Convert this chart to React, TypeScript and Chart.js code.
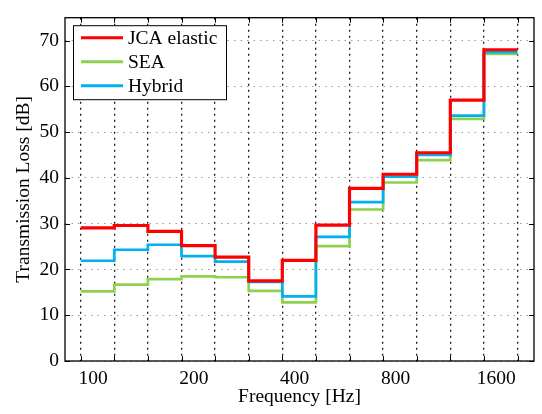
import React, { useEffect, useRef } from 'react';
import { Chart, registerables } from 'chart.js';

Chart.register(...registerables);

// Third-octave band centre frequencies (Hz)
const bands = ['100', '125', '160', '200', '250', '315', '400', '500', '630', '800', '1000', '1250', '1600'];
// Transmission loss per band (dB)
const jcaElastic = [29.1, 29.6, 28.3, 25.2, 22.7, 17.5, 22.0, 29.7, 37.7, 40.8, 45.5, 57.0, 68.0];
const sea = [15.2, 16.7, 17.9, 18.5, 18.3, 15.3, 12.8, 25.1, 33.1, 39.0, 43.9, 52.9, 67.1];
const hybrid = [21.9, 24.3, 25.4, 22.9, 21.7, 17.3, 14.1, 27.1, 34.7, 40.3, 45.0, 53.6, 67.5];
const xTickLabels = ['100', '200', '400', '800', '1600'];
const yTicks = [0, 10, 20, 30, 40, 50, 60, 70];

const seriesNames = ['JCA elastic', 'SEA', 'Hybrid'];
const seriesColors = ['#ff0000', '#8fd14f', '#00b0f0'];

const FONT_FAMILY = '"Liberation Serif", "Times New Roman", serif';
const FONT_SIZE = 19.5;

// Stairs: each band holds its value from its lower edge to its upper edge
function stairs(vals: number[]) {
  const pts: { x: number; y: number }[] = [];
  vals.forEach((v, i) => {
    pts.push({ x: i, y: v });
    pts.push({ x: i + 1, y: v });
  });
  return pts;
}

const edges = Array.from({ length: bands.length + 1 }, (_, i) => i);
const labelPos = xTickLabels.map((l) => bands.indexOf(l) + 0.37);

const framePlugin = {
  id: 'frameAndLegend',
  afterDraw(chart: any) {
    const { ctx, chartArea } = chart;
    const { left, right, top, bottom } = chartArea;
    const xs = chart.scales.x;
    const ys = chart.scales.y;
    ctx.save();
    ctx.strokeStyle = '#000';
    ctx.lineWidth = 1.3;
    ctx.setLineDash([]);
    ctx.strokeRect(left, top, right - left, bottom - top);
    const tl = 5;
    ctx.lineWidth = 1;
    ctx.beginPath();
    edges.forEach((e) => {
      const px = Math.round(xs.getPixelForValue(e)) + 0.5;
      ctx.moveTo(px, bottom);
      ctx.lineTo(px, bottom - tl);
      ctx.moveTo(px, top);
      ctx.lineTo(px, top + tl);
    });
    yTicks.forEach((t) => {
      const py = Math.round(ys.getPixelForValue(t)) + 0.5;
      ctx.moveTo(left, py);
      ctx.lineTo(left + tl, py);
      ctx.moveTo(right, py);
      ctx.lineTo(right - tl, py);
    });
    ctx.stroke();

    // Legend box
    const bx = left + 8;
    const by = top + 7.5;
    const bw = 153;
    const bh = 74;
    ctx.fillStyle = '#fff';
    ctx.fillRect(bx, by, bw, bh);
    ctx.strokeStyle = '#000';
    ctx.lineWidth = 1;
    ctx.strokeRect(bx + 0.5, by + 0.5, bw, bh);
    ctx.font = `${FONT_SIZE}px ${FONT_FAMILY}`;
    ctx.textBaseline = 'alphabetic';
    ctx.textAlign = 'left';
    seriesNames.forEach((name, i) => {
      const ly = by + 12.5 + i * 24;
      ctx.strokeStyle = seriesColors[i];
      ctx.lineWidth = 3;
      ctx.beginPath();
      ctx.moveTo(bx + 8, ly);
      ctx.lineTo(bx + 50, ly);
      ctx.stroke();
      ctx.fillStyle = '#000';
      ctx.fillText(name, bx + 55, ly + 6.5);
    });
    ctx.restore();
  },
};

export default function App() {
  const ref = useRef<HTMLCanvasElement | null>(null);
  useEffect(() => {
    if (!ref.current) return;
    const font = { family: FONT_FAMILY, size: FONT_SIZE };
    const chart = new Chart(ref.current, {
      type: 'line',
      data: {
        datasets: [
          {
            label: seriesNames[0],
            data: stairs(jcaElastic),
            borderColor: seriesColors[0],
            borderWidth: 3.2,
            pointRadius: 0,
            order: 0,
          },
          {
            label: seriesNames[1],
            data: stairs(sea),
            borderColor: seriesColors[1],
            borderWidth: 2.7,
            pointRadius: 0,
            order: 2,
          },
          {
            label: seriesNames[2],
            data: stairs(hybrid),
            borderColor: seriesColors[2],
            borderWidth: 2.7,
            pointRadius: 0,
            order: 1,
          },
        ],
      },
      options: {
        responsive: false,
        animation: false,
        layout: { padding: { top: 5, right: 8, left: 0, bottom: 0 } },
        plugins: { legend: { display: false }, tooltip: { enabled: false } },
        scales: {
          x: {
            type: 'linear',
            min: -0.467,
            max: 13.49,
            afterBuildTicks: (s: any) => {
              s.ticks = [...edges, ...labelPos]
                .sort((a, b) => a - b)
                .map((v) => ({ value: v }));
            },
            afterFit: (s: any) => {
              s.height = 53;
            },
            ticks: {
              autoSkip: false,
              maxRotation: 0,
              minRotation: 0,
              padding: 6,
              color: '#000',
              font,
              callback: (_v: any, idx: number, ticks: any[]) => {
                const val = ticks[idx].value;
                const k = labelPos.findIndex((p) => Math.abs(p - val) < 1e-6);
                return k >= 0 ? xTickLabels[k] : '';
              },
            },
            grid: {
              drawTicks: false,
              lineWidth: 1.3,
              color: (c: any) =>
                c.tick && Number.isInteger(c.tick.value) ? '#1a1a1a' : 'rgba(0,0,0,0)',
            },
            border: { display: false, dash: [2, 4] },
            title: {
              display: true,
              text: 'Frequency [Hz]',
              color: '#000',
              font,
              padding: { top: 0, bottom: 5 },
            },
          },
          y: {
            type: 'linear',
            min: 0,
            max: 75,
            afterBuildTicks: (s: any) => {
              s.ticks = yTicks.map((v) => ({ value: v }));
            },
            afterFit: (s: any) => {
              s.width = 65;
            },
            ticks: { padding: 6, color: '#000', font },
            grid: { drawTicks: false, lineWidth: 1, color: '#9a9a9a' },
            border: { display: false, dash: [1.5, 5] },
            title: {
              display: true,
              text: 'Transmission Loss [dB]',
              color: '#000',
              font,
              padding: { top: 12.5, bottom: 0 },
            },
          },
        },
      },
      plugins: [framePlugin],
    });
    return () => chart.destroy();
  }, []);
  return (
    <canvas
      ref={ref}
      width={542}
      height={414}
      style={{ position: 'absolute', left: 0, top: 0, width: 542, height: 414 }}
    />
  );
}
